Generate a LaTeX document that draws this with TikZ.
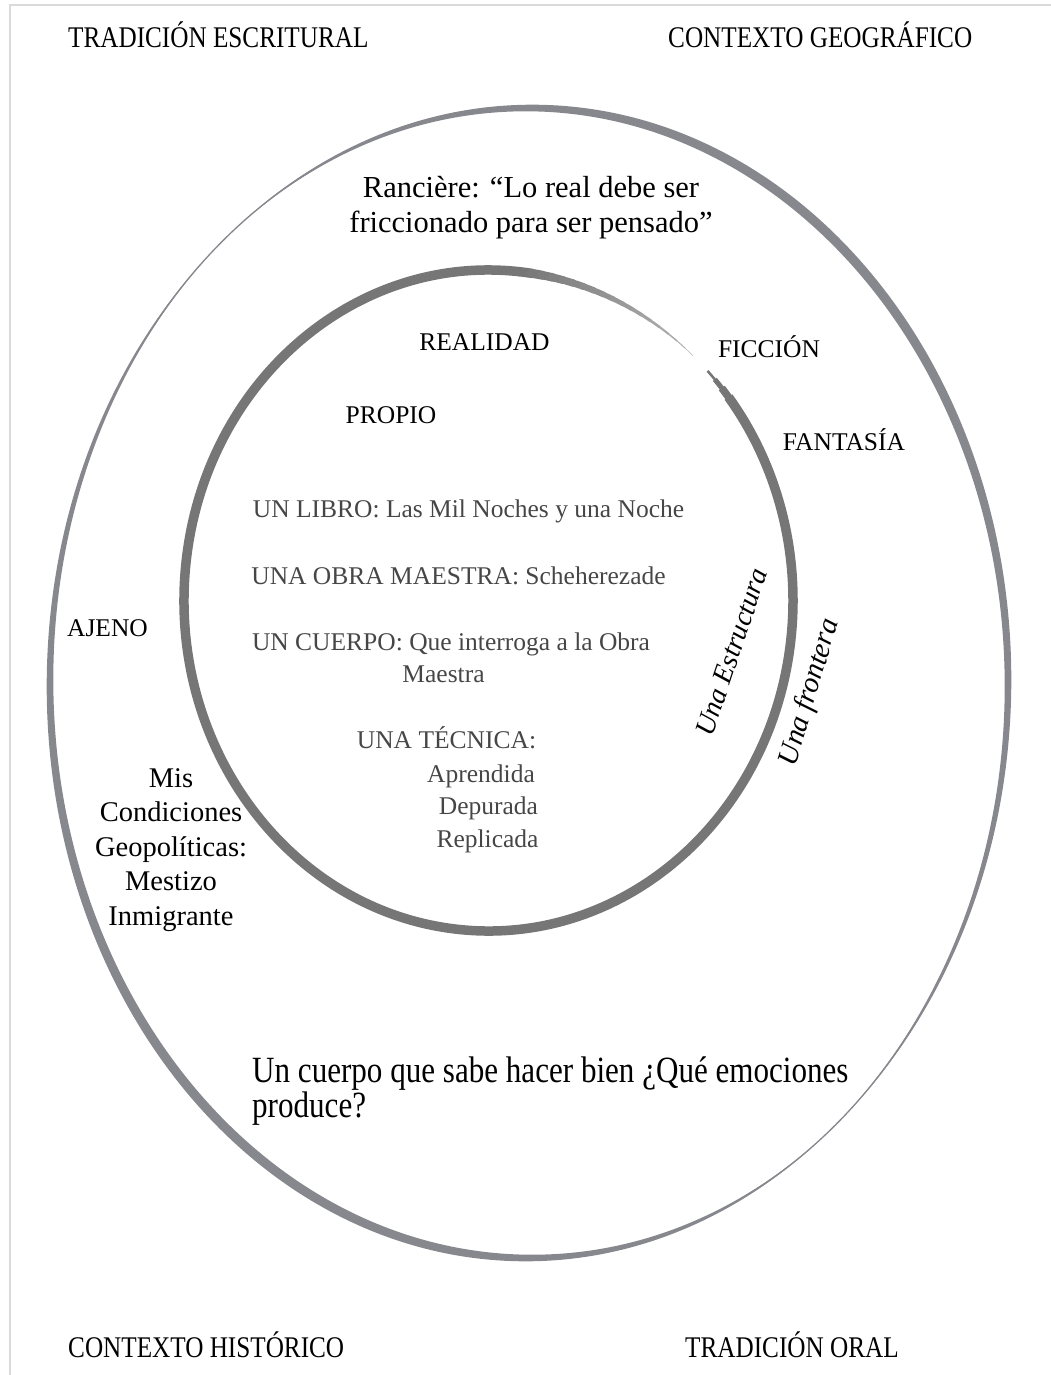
\documentclass[tikz,border=0pt]{standalone}
\usepackage{fontspec}
\setmainfont{Liberation Serif}
\newfontfamily\narrowfont{Liberation Serif}[FakeStretch=0.84]
\usetikzlibrary{calc}

\definecolor{ringgray}{RGB}{134,136,142}
\definecolor{coregray}{RGB}{118,118,118}
\definecolor{inktext}{RGB}{70,70,70}
\definecolor{framegray}{RGB}{218,218,218}

\tikzset{
  corner/.style = {font = \narrowfont\fontsize{30}{36}\selectfont, inner sep = 0pt, anchor = base west},
  zone/.style = {font = \fontsize{25.5}{30}\selectfont, inner sep = 0pt, anchor = base},
  core/.style = {font = \fontsize{25.5}{30}\selectfont, text = inktext, inner sep = 0pt, anchor = base},
  side/.style = {font = \itshape\fontsize{28}{34}\selectfont, inner sep = 0pt},
}

\begin{document}
\begin{tikzpicture}[x = 1pt, y = -1pt]
        \useasboundingbox (0, 0) rectangle (1051, 1375);
        \draw[framegray, line width = 2pt] (10, 1375) -- (10, 5) -- (1051, 5);

        % outer ring, drawn like a slanted pen
        \coordinate (outc) at (529, 683);
        \fill[ringgray, even odd rule] ($(outc) + (3.3, -3.3)$) ellipse[x radius = 479, y radius = 575]
                                       ($(outc) + (-3.3, 3.3)$) ellipse[x radius = 479, y radius = 575];
        \draw[ringgray, line width = 1.3pt] (outc) ellipse[x radius = 479, y radius = 575];

        % inner ring, open near FICCION
        \coordinate (innc) at (488.5, 600.5);
        \draw[coregray, line width = 9.5pt] (innc) ++(-84:304.5 and 330.5)
                arc[start angle = -84, end angle = -398, x radius = 304.5, y radius = 330.5];
        \foreach \k in {0,...,17} {
                \pgfmathsetmacro\sa{-84 + 2*\k}
                \pgfmathsetmacro\ea{-81.8 + 2*\k}
                \pgfmathsetmacro\wd{9.5 - 9*\k/17}
                \pgfmathsetmacro\pc{100 - 45*\k/17}
                \draw[coregray!\pc!white, line width = \wd pt, line cap = round] (innc) ++(\sa:304.5 and 330.5)
                        arc[start angle = \sa, end angle = \ea, x radius = 304.5, y radius = 330.5];
        }
        \foreach \k/\w in {0/2.5, 1/5, 2/7.5} {
                \pgfmathsetmacro\sa{-404 + 2*\k}
                \pgfmathsetmacro\ea{-401.8 + 2*\k}
                \draw[coregray, line width = \w pt] (innc) ++(\sa:304.5 and 330.5)
                        arc[start angle = \sa, end angle = \ea, x radius = 304.5, y radius = 330.5];
        }

        \node[corner] (tradEsc) at (68, 48) {TRADICIÓN ESCRITURAL};
        \node[corner] (ctxGeo) at (668, 48) {CONTEXTO GEOGRÁFICO};
        \node[corner] (ctxHist) at (68, 1357) {CONTEXTO HISTÓRICO};
        \node[corner] (tradOral) at (685, 1357) {TRADICIÓN ORAL};

        \node[font = \fontsize{30.5}{35}\selectfont, align = center, inner sep = 0pt, anchor = north] (ranciere) at (531, 176)
                {Rancière: “Lo real debe ser\\ friccionado para ser pensado”};

        \node[zone] (realidad) at (484.5, 350) {REALIDAD};
        \node[zone] (propio) at (391, 423) {PROPIO};
        \node[zone] (ficcion) at (769, 357) {FICCIÓN};
        \node[zone] (fantasia) at (844, 450) {FANTASÍA};
        \node[zone] (ajeno) at (107.5, 636) {AJENO};

        \node[font = \fontsize{28.5}{34.5}\selectfont, align = center, inner sep = 0pt, anchor = north] (geopol) at (171, 768)
                {Mis\\ Condiciones\\ Geopolíticas:\\ Mestizo\\ Inmigrante};

        \node[core] (libro) at (468.5, 517) {UN LIBRO: Las Mil Noches y una Noche};
        \node[core] (obra) at (458.5, 584) {UNA OBRA MAESTRA: Scheherezade};
        \node[core] (cuerpo) at (451, 650) {UN CUERPO: Que interroga a la Obra};
        \node[core] (cuerpoB) at (443.5, 682) {Maestra};
        \node[core] (tecnica) at (446.5, 748) {UNA TÉCNICA:};
        \node[core] (aprendida) at (481, 782) {Aprendida};
        \node[core] (depurada) at (488.5, 814) {Depurada};
        \node[core] (replicada) at (487.5, 847) {Replicada};

        \node[side, rotate = 71.5] (estructura) at (731.5, 652) {Una Estructura};
        \node[side, rotate = 73.5, font = \itshape\fontsize{29}{34}\selectfont] (frontera) at (810, 692.5) {Una frontera};

        \node[font = \narrowfont\fontsize{37}{35}\selectfont, align = left, inner sep = 0pt, anchor = north west] (pregunta) at (252, 1057)
                {Un cuerpo que sabe hacer bien ¿Qué emociones\\ produce?};
      \end{tikzpicture}
\end{document}
